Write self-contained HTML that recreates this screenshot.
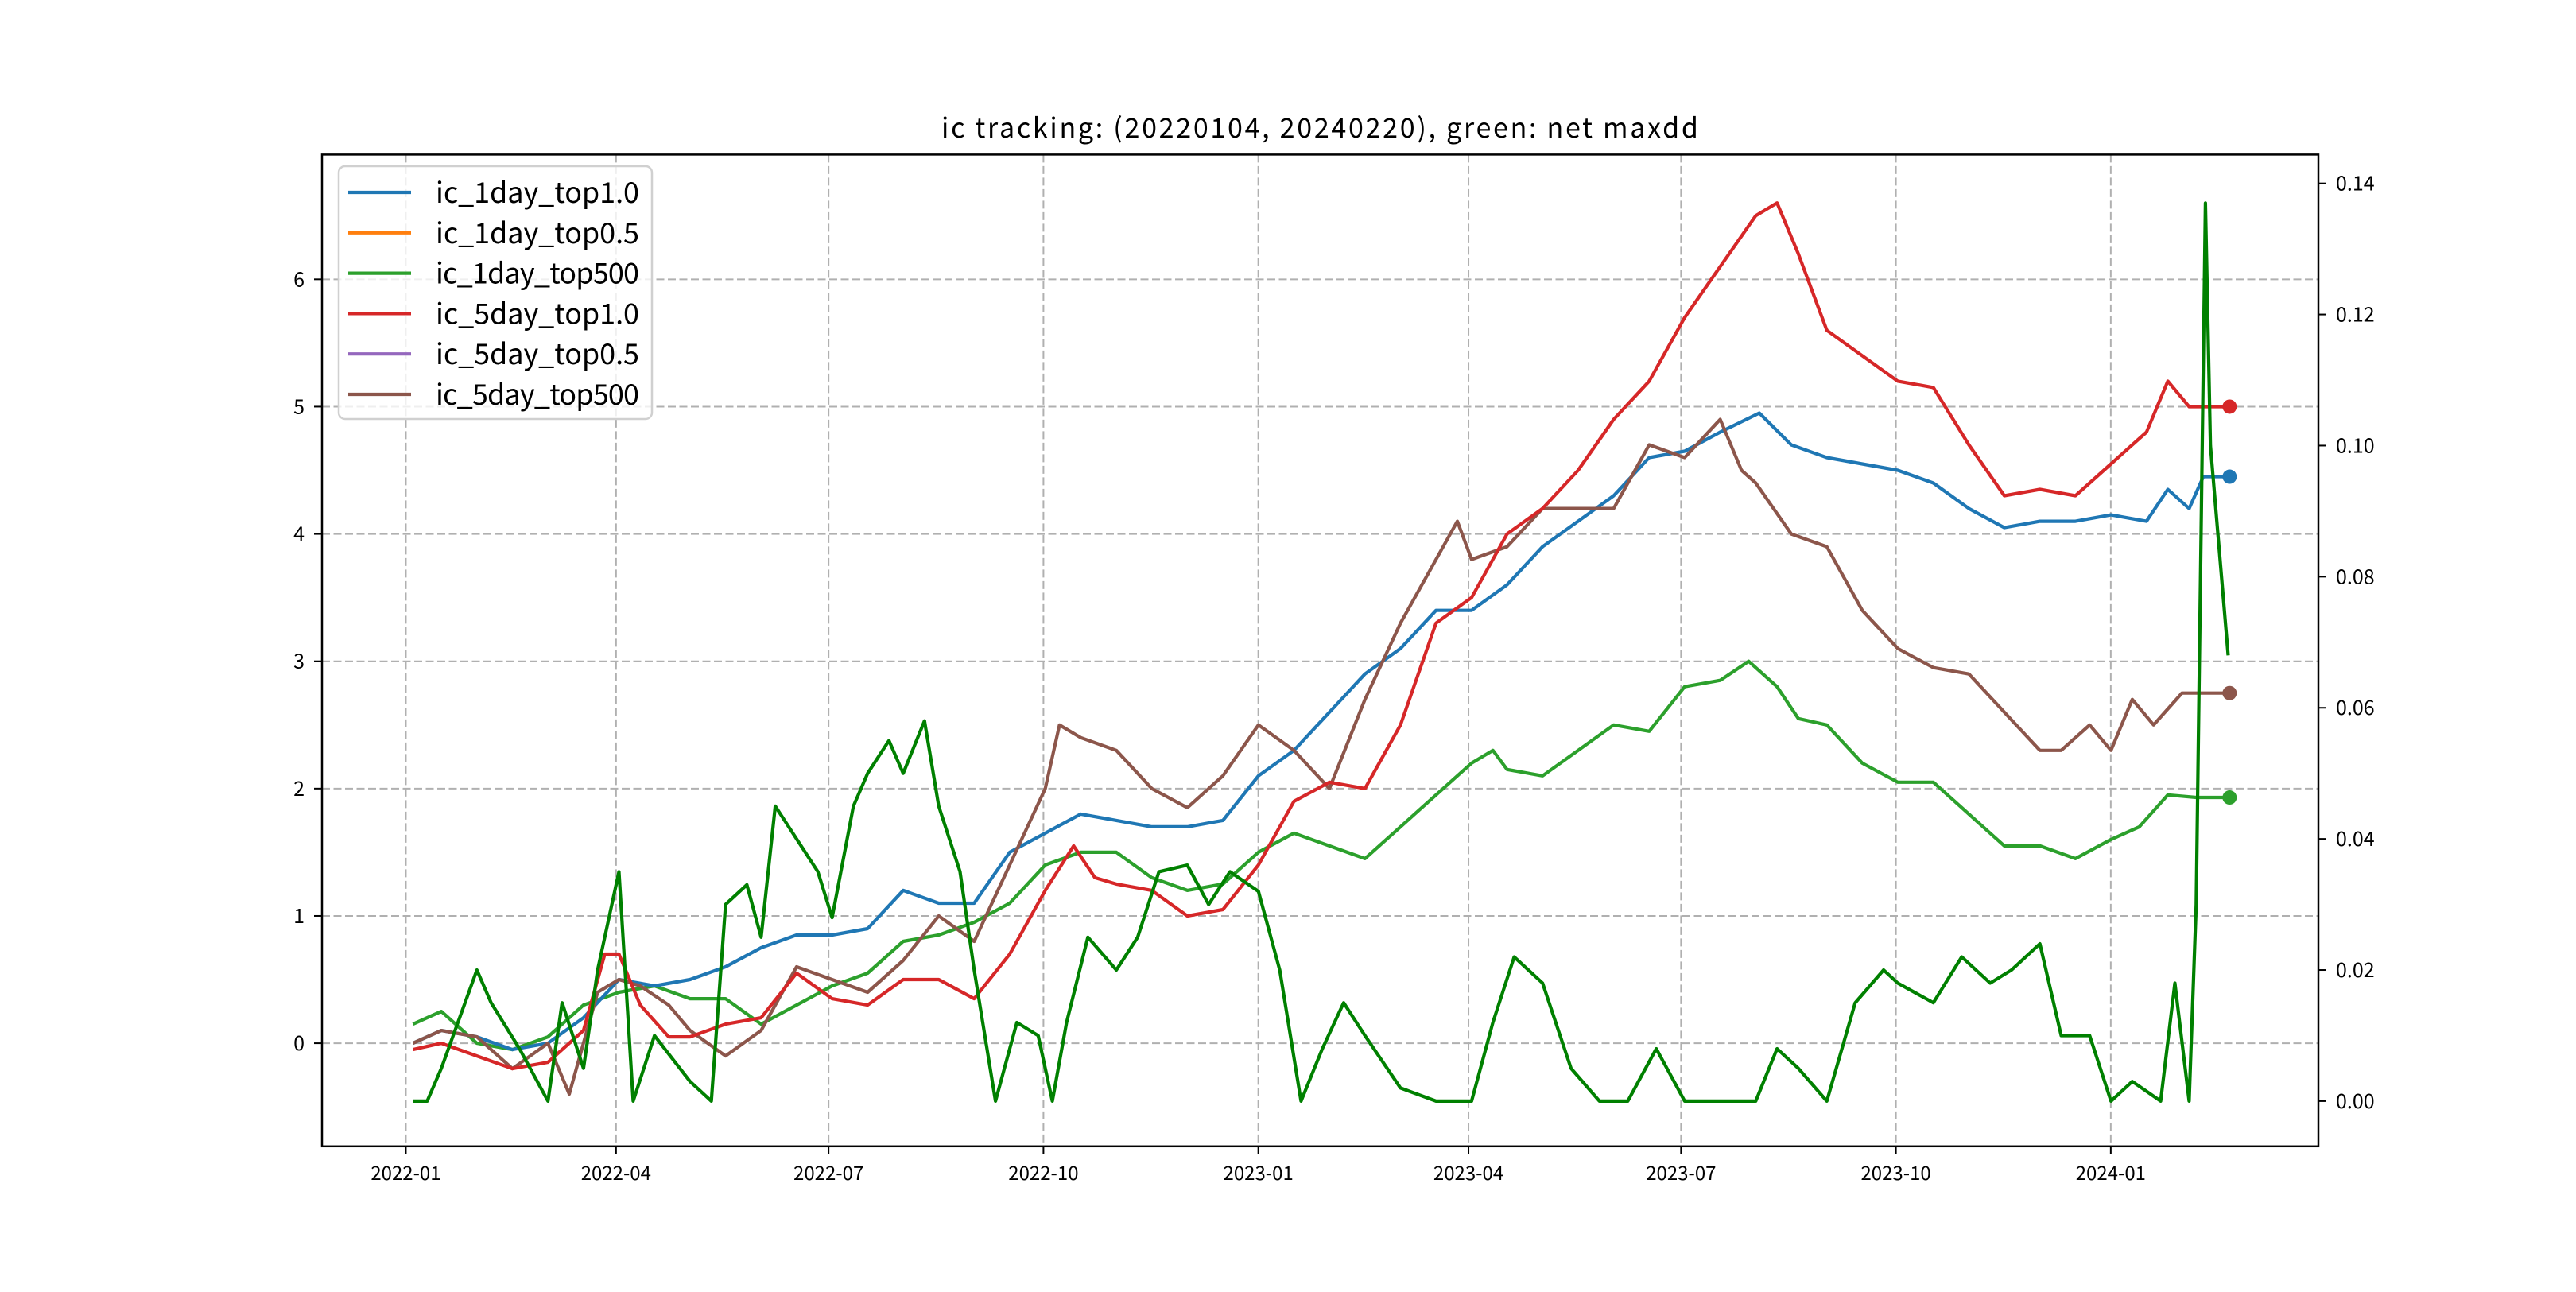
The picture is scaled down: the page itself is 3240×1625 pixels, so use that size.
<!DOCTYPE html>
<html><head><meta charset="utf-8"><style>
html,body{margin:0;padding:0;background:#fff;}
svg text{font-family:"WenQuanYi Zen Hei","Noto Sans CJK SC","Liberation Sans",sans-serif;fill:#000;}
</style></head><body>
<svg id="chart" width="3240" height="1620" viewBox="0 0 3240 1620" xmlns="http://www.w3.org/2000/svg">
<rect width="3240" height="1620" fill="#fff"/>
<g id="grid"></g>
<g id="lines"></g>
<rect x="405" y="194.4" width="2511" height="1247.4" fill="none" stroke="#000" stroke-width="2.5"/>
<g id="axes"></g>
<text x="1660" y="173" font-size="34" text-anchor="middle" textLength="952">ic tracking: (20220104, 20240220), green: net maxdd</text>
<g id="legend"></g>
</svg>
<script>
// x in months since 2022-01-01
const blueX=[0.1,0.5,1,1.5,2,2.5,3,3.5,4,4.5,5,5.5,6,6.5,7,7.5,8,8.5,9,9.5,10,10.5,11,11.5,12,12.5,13,13.5,14,14.5,15,15.5,16,16.5,17,17.5,18,18.5,19.05,19.5,20,20.5,21,21.5,22,22.5,23,23.5,24,24.5,24.8,25.1,25.3,25.67];
const blueY=[0,0.1,0.05,-0.05,0,0.2,0.5,0.45,0.5,0.6,0.75,0.85,0.85,0.9,1.2,1.1,1.1,1.5,1.65,1.8,1.75,1.7,1.7,1.75,2.1,2.3,2.6,2.9,3.1,3.4,3.4,3.6,3.9,4.1,4.3,4.6,4.65,4.8,4.95,4.7,4.6,4.55,4.5,4.4,4.2,4.05,4.1,4.1,4.15,4.1,4.35,4.2,4.45,4.45];
const redX=[0.1,0.5,1,1.5,2,2.5,2.8,3,3.3,3.7,4,4.5,5,5.5,6,6.5,7,7.5,8,8.5,9,9.4,9.7,10,10.5,11,11.5,12,12.5,13,13.5,14,14.5,15,15.5,16,16.5,17,17.5,18,18.5,19,19.3,19.6,20,20.5,21,21.5,22,22.5,23,23.5,24,24.5,24.8,25.1,25.3,25.67];
const redY=[-0.05,0,-0.1,-0.2,-0.15,0.1,0.7,0.7,0.3,0.05,0.05,0.15,0.2,0.55,0.35,0.3,0.5,0.5,0.35,0.7,1.2,1.55,1.3,1.25,1.2,1.0,1.05,1.4,1.9,2.05,2.0,2.5,3.3,3.5,4.0,4.2,4.5,4.9,5.2,5.7,6.1,6.5,6.6,6.2,5.6,5.4,5.2,5.15,4.7,4.3,4.35,4.3,4.55,4.8,5.2,5.0,5.0,5.0];
const brownX=[0.1,0.5,1,1.5,2,2.3,2.7,3,3.3,3.7,4,4.5,5,5.5,6,6.5,7,7.5,8,8.5,9,9.2,9.5,10,10.5,11,11.5,12,12.5,13,13.5,14,14.5,14.8,15,15.5,16,16.5,17,17.5,18,18.5,18.8,19,19.5,20,20.5,21,21.5,22,22.5,23,23.3,23.7,24,24.3,24.6,25,25.3,25.67];
const brownY=[0,0.1,0.05,-0.2,0,-0.4,0.4,0.5,0.45,0.3,0.1,-0.1,0.1,0.6,0.5,0.4,0.65,1.0,0.8,1.4,2.0,2.5,2.4,2.3,2.0,1.85,2.1,2.5,2.3,2.0,2.7,3.3,3.8,4.1,3.8,3.9,4.2,4.2,4.2,4.7,4.6,4.9,4.5,4.4,4.0,3.9,3.4,3.1,2.95,2.9,2.6,2.3,2.3,2.5,2.3,2.7,2.5,2.75,2.75,2.75];
const lgreenX=[0.1,0.5,1,1.5,2,2.5,3,3.5,4,4.5,5,5.5,6,6.5,7,7.5,8,8.5,9,9.5,10,10.5,11,11.5,12,12.5,13,13.5,14,14.5,15,15.3,15.5,16,16.5,17,17.5,18,18.5,18.9,19.3,19.6,20,20.5,21,21.5,22,22.5,23,23.5,24,24.4,24.8,25.2,25.3,25.67];
const lgreenY=[0.15,0.25,0,-0.05,0.05,0.3,0.4,0.45,0.35,0.35,0.15,0.3,0.45,0.55,0.8,0.85,0.95,1.1,1.4,1.5,1.5,1.3,1.2,1.25,1.5,1.65,1.55,1.45,1.7,1.95,2.2,2.3,2.15,2.1,2.3,2.5,2.45,2.8,2.85,3.0,2.8,2.55,2.5,2.2,2.05,2.05,1.8,1.55,1.55,1.45,1.6,1.7,1.95,1.93,1.93,1.93];
const ddX=[0.1,0.3,0.5,1,1.2,1.6,2,2.2,2.5,2.7,3,3.2,3.5,4,4.3,4.5,4.8,5,5.2,5.5,5.8,6,6.3,6.5,6.8,7,7.3,7.5,7.8,8,8.3,8.6,8.9,9.1,9.3,9.6,10,10.3,10.6,11,11.3,11.6,12,12.3,12.6,12.9,13.2,13.5,14,14.5,15,15.3,15.6,16,16.4,16.8,17.2,17.6,18,18.5,19,19.3,19.6,20,20.4,20.8,21,21.5,21.9,22.3,22.6,23,23.3,23.7,24,24.3,24.7,24.9,25.1,25.2,25.33,25.4,25.65];
const ddY=[0,0,0.005,0.02,0.015,0.008,0,0.015,0.005,0.02,0.035,0,0.01,0.003,0,0.03,0.033,0.025,0.045,0.04,0.035,0.028,0.045,0.05,0.055,0.05,0.058,0.045,0.035,0.02,0,0.012,0.01,0,0.012,0.025,0.02,0.025,0.035,0.036,0.03,0.035,0.032,0.02,0,0.008,0.015,0.01,0.002,0,0,0.012,0.022,0.018,0.005,0,0,0.008,0,0,0,0.008,0.005,0,0.015,0.02,0.018,0.015,0.022,0.018,0.02,0.024,0.01,0.01,0,0.003,0,0.018,0,0.03,0.137,0.1,0.068];
const xTickMonths=[0,3,6,9,12,15,18,21,24];
const xTickDays=[0,90,181,273,365,455,546,638,730];
const xTickLabels=["2022-01","2022-04","2022-07","2022-10","2023-01","2023-04","2023-07","2023-10","2024-01"];
const yTicks=[0,1,2,3,4,5,6];
const y2Ticks=[0,0.02,0.04,0.06,0.08,0.10,0.12,0.14];
const legendLabels=["ic_1day_top1.0","ic_1day_top0.5","ic_1day_top500","ic_5day_top1.0","ic_5day_top0.5","ic_5day_top500"];
const legendColors=["#1f77b4","#ff7f0e","#2ca02c","#d62728","#9467bd","#8c564b"];

const L=405,R=2916,T=194.4,B=1441.8;
const X0=-35.9,X1=818.9, Y0=-0.81,Y1=6.98, Z0=-0.0069,Z1=0.1444;
const xs=m=>L+(m*30.42-X0)/(X1-X0)*(R-L);
const xd=d=>L+(d-X0)/(X1-X0)*(R-L);
const ys=v=>B-(v-Y0)/(Y1-Y0)*(B-T);
const zs=v=>B-(v-Z0)/(Z1-Z0)*(B-T);
const NS="http://www.w3.org/2000/svg";
function mk(tag,parent,attrs){const e=document.createElementNS(NS,tag);for(const k in attrs)e.setAttribute(k,attrs[k]);parent.appendChild(e);return e;}
const grid=document.getElementById('grid'),lines=document.getElementById('lines'),axes=document.getElementById('axes'),legend=document.getElementById('legend');
xTickDays.forEach((d,i)=>{const x=xd(d);
 let g=mk('line',grid,{x1:x,x2:x,y1:T,y2:B,stroke:'#b0b0b0','stroke-width':2,'stroke-dasharray':'10,4.5'});
 
 let t=mk('line',axes,{x1:x,x2:x,y1:B,y2:B+10,stroke:'#000','stroke-width':2});
 
 let lb=mk('text',axes,{x:x,y:B+42,'font-size':24,'text-anchor':'middle'});lb.textContent=xTickLabels[i];
 });
yTicks.forEach(v=>{const y=ys(v);
 let g=mk('line',grid,{x1:L,x2:R,y1:y,y2:y,stroke:'#b0b0b0','stroke-width':2,'stroke-dasharray':'10,4.5'});
 
 let t=mk('line',axes,{x1:L-10,x2:L,y1:y,y2:y,stroke:'#000','stroke-width':2});
 
 let lb=mk('text',axes,{x:L-22,y:y+9,'font-size':25,'text-anchor':'end'});lb.textContent=String(v);
 });
y2Ticks.forEach(v=>{const y=zs(v);
 let t=mk('line',axes,{x1:R,x2:R+10,y1:y,y2:y,stroke:'#000','stroke-width':2});
 
 let lb=mk('text',axes,{x:R+22,y:y+9,'font-size':25,'text-anchor':'start'});lb.textContent=v.toFixed(2);
 });
function series(X,Y,f,color,name,dot){
 const d=X.map((m,i)=>(i?'L':'M')+xs(m).toFixed(1)+','+f(Y[i]).toFixed(1)).join(' ');
 const p=mk('path',lines,{d:d,fill:'none',stroke:color,'stroke-width':4.2,'stroke-linejoin':'round'});
 
 if(dot){const c=mk('circle',lines,{cx:xs(X[X.length-1]),cy:f(Y[Y.length-1]),r:9,fill:color});
 }
}
series(lgreenX,lgreenY,ys,'#2ca02c','line-ic-1day-top500',true);
series(blueX,blueY,ys,'#1f77b4','line-ic-1day-top1-0',true);
series(brownX,brownY,ys,'#8c564b','line-ic-5day-top500',true);
series(redX,redY,ys,'#d62728','line-ic-5day-top1-0',true);
series(ddX,ddY,zs,'#008000','line-net-maxdd',false);
const lb=mk('rect',legend,{x:426,y:209,width:394,height:318,rx:8,fill:'#fff','fill-opacity':0.8,stroke:'#d0d0d0','stroke-width':2.5});

legendLabels.forEach((s,i)=>{const y=242+i*50.8;
 let ln=mk('line',legend,{x1:438,x2:517,y1:y,y2:y,stroke:legendColors[i],'stroke-width':4.2});
 
 let t=mk('text',legend,{x:548,y:y+13,'font-size':36,textLength:256});t.textContent=s;
 });
</script>
</body></html>
